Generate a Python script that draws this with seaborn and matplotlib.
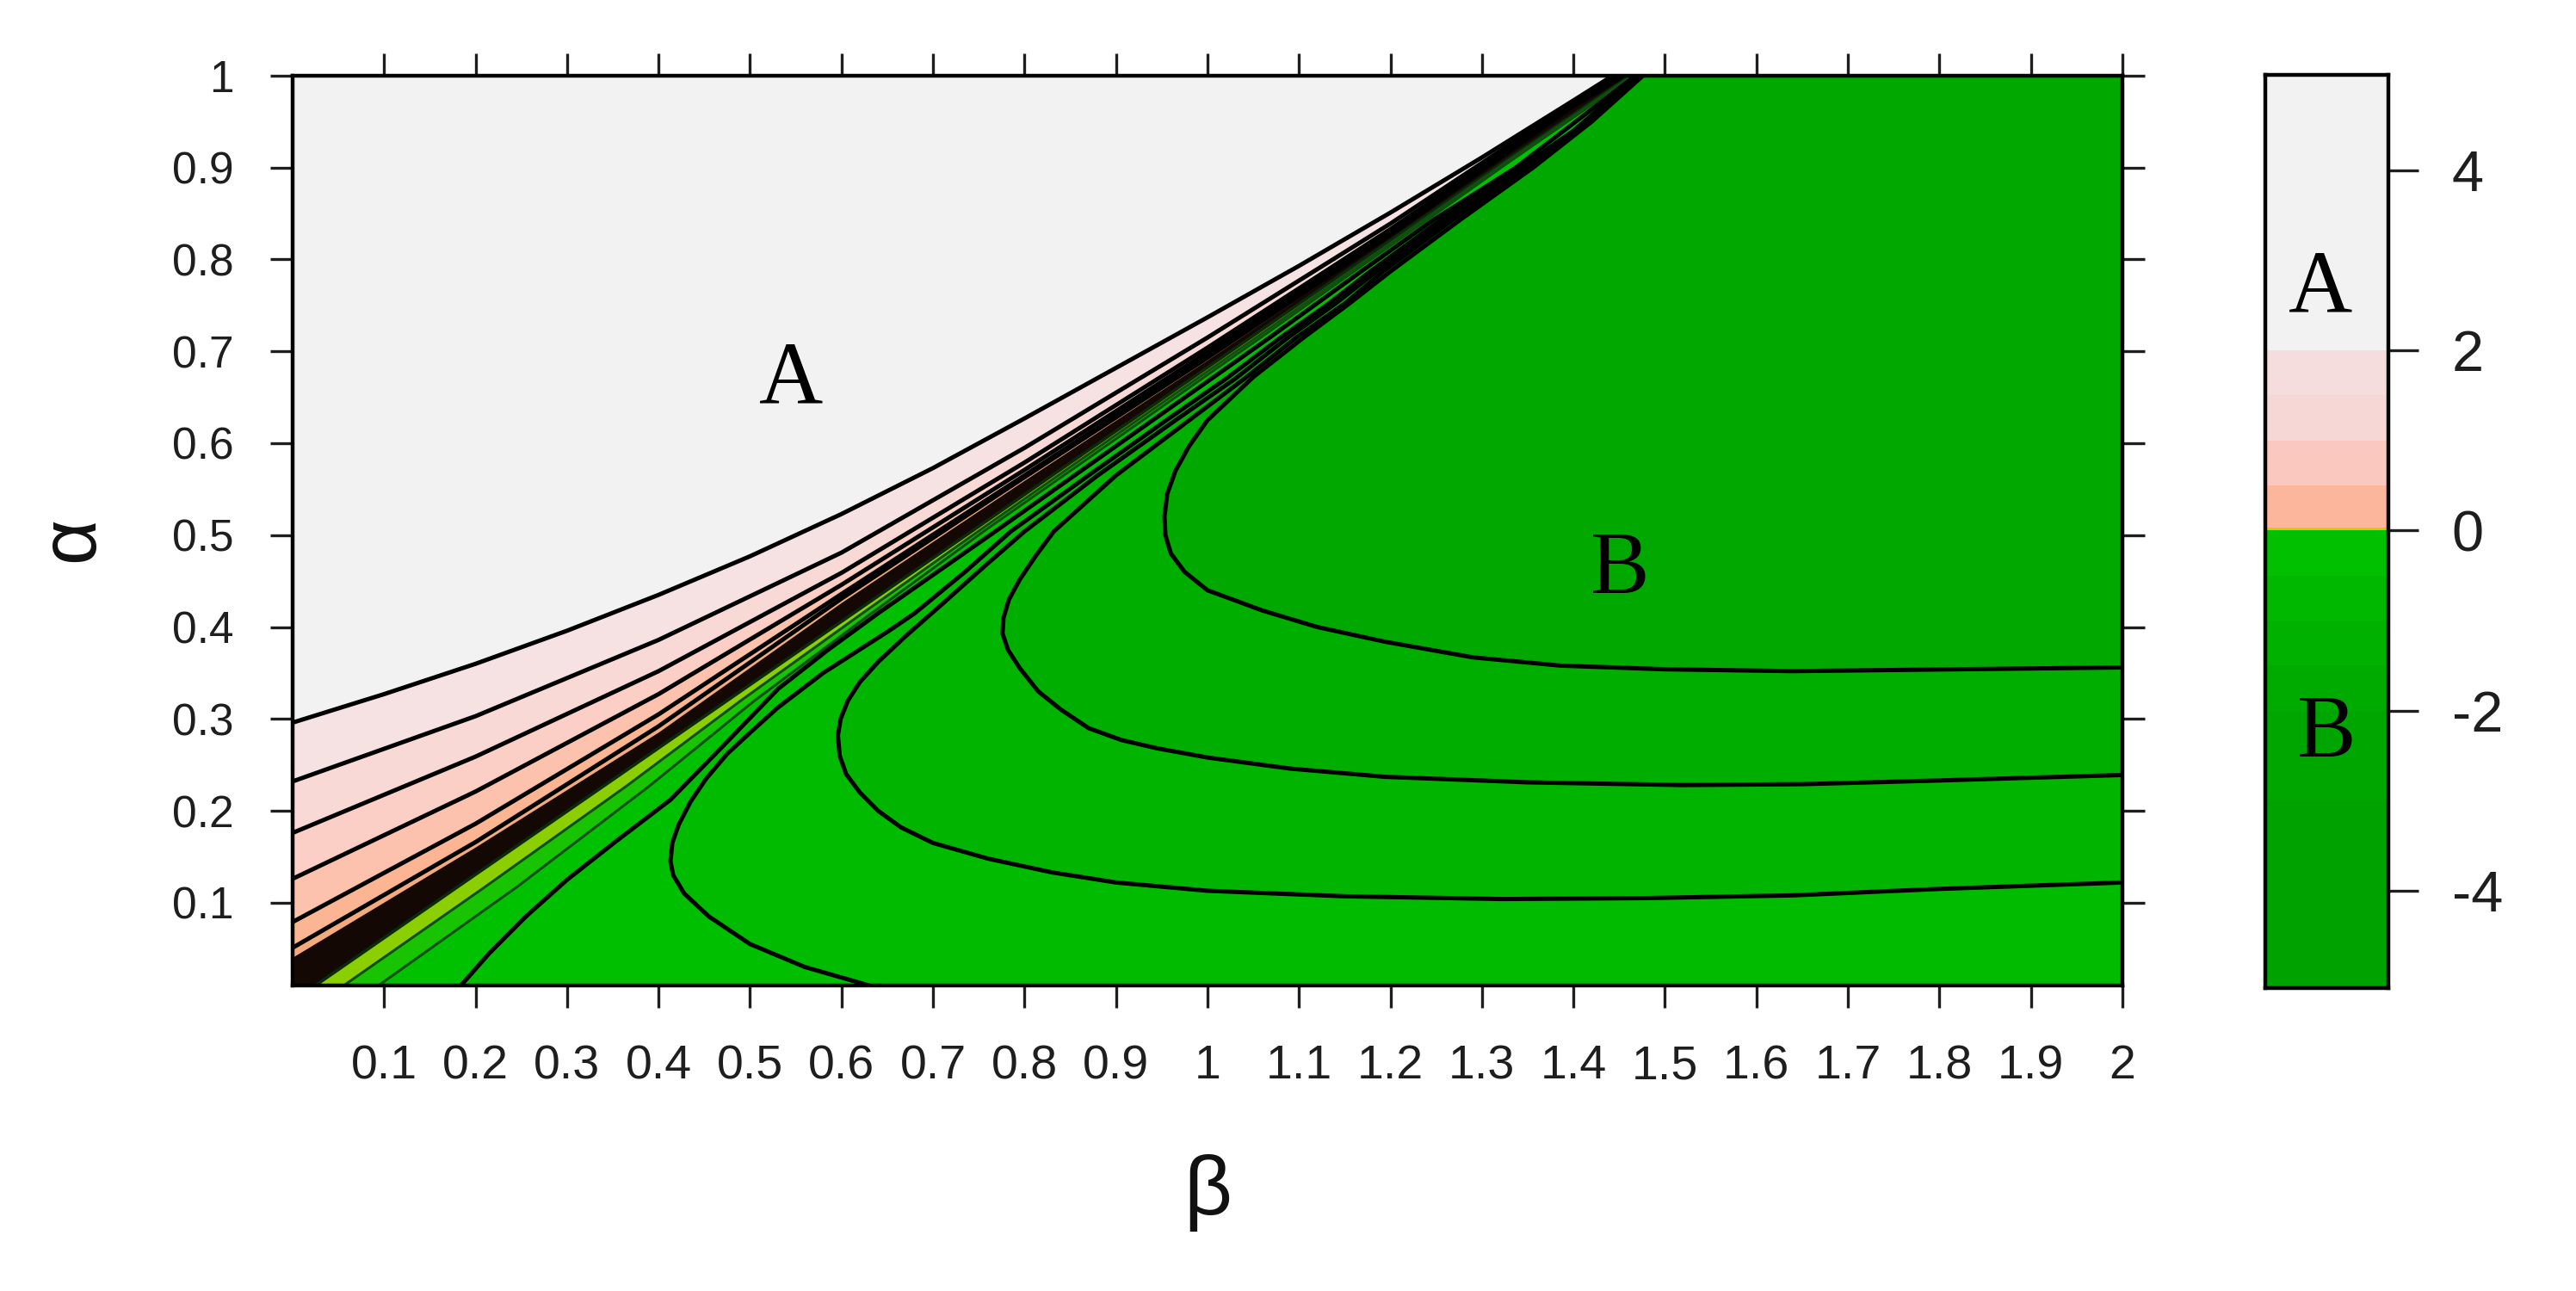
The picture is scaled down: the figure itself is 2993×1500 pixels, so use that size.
import numpy as np
import pandas as pd
import matplotlib
matplotlib.use('Agg')
import matplotlib.pyplot as plt
import seaborn as sns

# Contour lines, as (beta, alpha) points.
# Upper boundary of the pink fan (level 2)
b0_beta = [0.0, 0.1, 0.2, 0.3, 0.4, 0.5, 0.6, 0.7, 0.8, 0.9, 1.0, 1.1, 1.2, 1.3, 1.4, 1.443]
b0_alpha = [0.296, 0.327, 0.360, 0.396, 0.435, 0.477, 0.523, 0.573, 0.627, 0.682, 0.737,
            0.793, 0.851, 0.911, 0.973, 1.0]

# pink fan lines between level 2 and the dense band
fan_beta = [0.0, 0.2, 0.4, 0.6, 0.8, 1.0, 1.2, 1.4]
p1_alpha = [0.232, 0.303, 0.386, 0.481, 0.595, 0.715, 0.839, 0.971]
p2_alpha = [0.176, 0.259, 0.352, 0.459, 0.579, 0.704, 0.833, 0.969]
p3_alpha = [0.126, 0.221, 0.327, 0.446, 0.571, 0.699, 0.830, 0.968]
p4_alpha = [0.079, 0.186, 0.305, 0.436, 0.565, 0.695, 0.828, 0.968]
p5_alpha = [0.051, 0.166, 0.292, 0.431, 0.563, 0.693, 0.827, 0.967]
bt_alpha = [0.040, 0.160, 0.285, 0.426, 0.559, 0.690, 0.825, 0.966]
fan_top_beta = [1.446, 1.449, 1.452, 1.454, 1.456, 1.458]   # where each reaches alpha = 1

# lower edge of the dense black band
bk_beta = [0.025, 0.18, 0.34, 0.475, 0.61, 0.745, 0.92, 1.05, 1.154, 1.235, 1.325, 1.462]
bk_alpha = [0.01, 0.117, 0.227, 0.320, 0.413, 0.506, 0.627, 0.717, 0.789, 0.845, 0.907, 1.0]

# thin green lines next to the band
g1_beta = [0.056, 0.21, 0.365, 0.490, 0.620, 0.752, 0.926, 1.056, 1.159, 1.239, 1.328, 1.464]
g2_beta = [0.094, 0.245, 0.390, 0.505, 0.630, 0.758, 0.932, 1.061, 1.163, 1.243, 1.331, 1.466]
g_alpha = [0.01, 0.117, 0.227, 0.320, 0.413, 0.506, 0.627, 0.717, 0.789, 0.845, 0.907, 1.0]

# green contour lines
l1_beta = [0.184, 0.215, 0.255, 0.300, 0.355, 0.413, 0.470, 0.531, 0.585, 0.640, 0.768,
           0.940, 1.068, 1.168, 1.247, 1.337, 1.468]
l1_alpha = [0.01, 0.045, 0.085, 0.125, 0.168, 0.212, 0.270, 0.333, 0.375, 0.415, 0.504,
            0.625, 0.715, 0.787, 0.843, 0.900, 1.0]

l2_beta = [0.630, 0.560, 0.500, 0.455, 0.428, 0.416, 0.413, 0.415, 0.422, 0.435, 0.452,
           0.475, 0.500, 0.530, 0.580, 0.652, 0.680, 0.735, 0.785, 0.870, 0.955, 1.020,
           1.080, 1.130, 1.178, 1.255, 1.342, 1.400, 1.470]
l2_alpha = [0.01, 0.030, 0.055, 0.085, 0.110, 0.130, 0.145, 0.165, 0.185, 0.210, 0.235,
            0.262, 0.285, 0.312, 0.350, 0.396, 0.415, 0.460, 0.504, 0.565, 0.625, 0.670,
            0.715, 0.750, 0.787, 0.843, 0.900, 0.940, 1.0]

l3_beta = [2.0, 1.80, 1.64, 1.48, 1.322, 1.15, 1.0, 0.90, 0.83, 0.76, 0.70, 0.665, 0.64,
           0.62, 0.605, 0.598, 0.596, 0.599, 0.607, 0.62, 0.64, 0.67, 0.71, 0.755, 0.80,
           0.88, 0.965, 1.03, 1.088, 1.14, 1.185, 1.262, 1.347, 1.41, 1.472]
l3_alpha = [0.122, 0.115, 0.108, 0.105, 0.104, 0.107, 0.113, 0.122, 0.133, 0.148, 0.165,
            0.182, 0.200, 0.220, 0.240, 0.260, 0.282, 0.300, 0.320, 0.340, 0.362, 0.390,
            0.425, 0.465, 0.504, 0.565, 0.625, 0.670, 0.715, 0.752, 0.787, 0.843, 0.900,
            0.945, 1.0]

l4_beta = [2.0, 1.80, 1.65, 1.52, 1.35, 1.194, 1.09, 1.0, 0.945, 0.906, 0.87, 0.84, 0.815,
           0.795, 0.782, 0.776, 0.777, 0.783, 0.795, 0.812, 0.832, 0.90, 0.98, 1.04,
           1.097, 1.15, 1.192, 1.268, 1.351, 1.415, 1.474]
l4_alpha = [0.239, 0.233, 0.229, 0.228, 0.231, 0.237, 0.246, 0.258, 0.268, 0.277, 0.290,
            0.310, 0.330, 0.355, 0.375, 0.393, 0.410, 0.430, 0.452, 0.477, 0.504, 0.565,
            0.625, 0.670, 0.715, 0.752, 0.787, 0.843, 0.900, 0.948, 1.0]

l5_beta = [2.0, 1.82, 1.64, 1.50, 1.386, 1.29, 1.194, 1.12, 1.06, 1.0, 0.975, 0.96, 0.954,
           0.953, 0.956, 0.965, 0.98, 1.0, 1.05, 1.105, 1.155, 1.20, 1.276, 1.356, 1.42,
           1.476]
l5_alpha = [0.356, 0.354, 0.352, 0.354, 0.358, 0.367, 0.384, 0.400, 0.418, 0.440, 0.460,
            0.480, 0.500, 0.520, 0.545, 0.570, 0.597, 0.625, 0.672, 0.715, 0.752, 0.787,
            0.843, 0.900, 0.950, 1.0]

# colour bar bands (value ranges and colours)
cb_lo = [-5.1, -3.0, -2.0, -1.5, -1.0, -0.5, 0.0, 0.03, 0.5, 1.0, 1.5, 2.0]
cb_hi = [-3.0, -2.0, -1.5, -1.0, -0.5, 0.0, 0.03, 0.5, 1.0, 1.5, 2.0, 5.1]
cb_colors = ['#00a200', '#00a600', '#00ab00', '#00b100', '#00b800', '#00c000',
             '#e2c400', '#fbb69c', '#fbc8c0', '#f7d6d6', '#f6dddd', '#f2f2f2']
cb_ticks = [-4, -2, 0, 2, 4]
cb_ticklabels = ['-4', '-2', '0', '2', '4']

x_ticks = [0.1, 0.2, 0.3, 0.4, 0.5, 0.6, 0.7, 0.8, 0.9, 1.0,
           1.1, 1.2, 1.3, 1.4, 1.5, 1.6, 1.7, 1.8, 1.9, 2.0]
x_ticklabels = ['0.1', '0.2', '0.3', '0.4', '0.5', '0.6', '0.7', '0.8', '0.9', '1',
                '1.1', '1.2', '1.3', '1.4', '1.5', '1.6', '1.7', '1.8', '1.9', '2']
y_ticks = [0.1, 0.2, 0.3, 0.4, 0.5, 0.6, 0.7, 0.8, 0.9, 1.0]
y_ticklabels = ['0.1', '0.2', '0.3', '0.4', '0.5', '0.6', '0.7', '0.8', '0.9', '1']

XLIM = (0.0, 2.0)
YLIM = (0.01, 1.0)


def fill_side(ax, b, a, color, start):
    """Fills the region to the lower right of a contour line."""
    x0, x1, y0, y1 = -0.2, 2.2, -0.2, 1.2
    xs = list(b) + [b[-1], x1]
    ys = list(a) + [y1, y1]
    if start == 'left':
        xs += [x1, x0, x0]
        ys += [y0, y0, a[0]]
    elif start == 'bottom':
        xs += [x1, b[0]]
        ys += [y0, y0]
    else:  # starts on the right edge
        xs += [x1]
        ys += [a[0]]
    ax.fill(xs, ys, color=color, lw=0, zorder=1)


def draw_line(ax, b, a, color='black', lw=3.6):
    df = pd.DataFrame({'beta': b, 'alpha': a})
    sns.lineplot(data=df, x='beta', y='alpha', sort=False, estimator=None,
                 color=color, lw=lw, ax=ax, legend=False, zorder=3)
    ax.lines[-1].set_solid_joinstyle('round')


sns.set_style('white')
plt.rcParams['font.family'] = ['Liberation Sans', 'DejaVu Sans']

fig = plt.figure(figsize=(29.93, 15.0), dpi=100)
ax = fig.add_axes([0.1136, 0.2367, 0.7103, 0.7047])
cax = fig.add_axes([0.8794, 0.2347, 0.0478, 0.7073])

ax.set_facecolor('#f2f2f2')

fan_lines = []
for a, top in zip([p1_alpha, p2_alpha, p3_alpha, p4_alpha, p5_alpha, bt_alpha],
                  fan_top_beta):
    fan_lines.append((fan_beta + [top], a + [1.0]))

# filled regions, painted from the A side to the B side
fill_side(ax, b0_beta, b0_alpha, '#f6e2e2', 'left')
fan_colors = ['#f8d9d6', '#fbcec6', '#fcc2ad', '#fbb592', '#f4aa7c', '#140805']
for (b, a), c in zip(fan_lines, fan_colors):
    fill_side(ax, b, a, c, 'left')
fill_side(ax, bk_beta, bk_alpha, '#8ccf00', 'bottom')
fill_side(ax, g1_beta, g_alpha, '#18c400', 'bottom')
fill_side(ax, g2_beta, g_alpha, '#00c100', 'bottom')
fill_side(ax, l1_beta, l1_alpha, '#00bf00', 'bottom')
fill_side(ax, l2_beta, l2_alpha, '#00bb00', 'bottom')
fill_side(ax, l3_beta, l3_alpha, '#00b400', 'right')
fill_side(ax, l4_beta, l4_alpha, '#00ae00', 'right')
fill_side(ax, l5_beta, l5_alpha, '#00a800', 'right')

# contour lines
draw_line(ax, b0_beta, b0_alpha)
for b, a in fan_lines[:-1]:
    draw_line(ax, b, a)
draw_line(ax, bk_beta, bk_alpha, color='#0b2a0b', lw=2.6)
draw_line(ax, g1_beta, g_alpha, color='#0e4f0e', lw=2.2)
draw_line(ax, g2_beta, g_alpha, color='#0e4f0e', lw=2.2)
for b, a in [(l1_beta, l1_alpha), (l2_beta, l2_alpha), (l3_beta, l3_alpha),
             (l4_beta, l4_alpha), (l5_beta, l5_alpha)]:
    draw_line(ax, b, a)

ax.text(0.545, 0.667, 'A', family='Liberation Serif', fontsize=74,
        ha='center', va='center', color='black', zorder=5)
ax.text(1.451, 0.46, 'B', family='Liberation Serif', fontsize=74,
        ha='center', va='center', color='black', zorder=5)

ax.set_xlim(*XLIM)
ax.set_ylim(*YLIM)
ax.set_xticks(x_ticks)
ax.set_xticklabels(x_ticklabels, family=['Liberation Sans Narrow', 'Liberation Sans'],
                   fontsize=40)
ax.set_yticks(y_ticks)
ax.set_yticklabels(y_ticklabels, fontsize=37)
ax.tick_params(direction='out', length=19, width=2.4, top=True, right=True,
               bottom=True, left=True, labeltop=False, labelright=False,
               pad=30, colors='#1e1e1e')
for s in ax.spines.values():
    s.set_visible(True)
    s.set_linewidth(3.2)
    s.set_color('black')
    s.set_zorder(6)

ax.set_xlabel('β', fontsize=70, color='#111111')
ax.set_ylabel('α', fontsize=66, color='#111111')
ax.xaxis.set_label_coords(0.5, -0.185)
ax.yaxis.set_label_coords(-0.100, 0.49)

# colour bar
for lo, hi, c in zip(cb_lo, cb_hi, cb_colors):
    cax.fill_between([0, 1], lo, hi, color=c, lw=0)
cax.set_xlim(0, 1)
cax.set_ylim(-5.08, 5.06)
cax.set_xticks([])
cax.yaxis.tick_right()
cax.set_yticks(cb_ticks)
cax.set_yticklabels(cb_ticklabels)
cax.tick_params(axis='y', direction='out', length=25, width=2.4, pad=28,
                labelsize=48, left=False, right=True, colors='#1e1e1e')
for s in cax.spines.values():
    s.set_visible(True)
    s.set_linewidth(3.2)
    s.set_color('black')
cax.text(0.45, 2.67, 'A', family='Liberation Serif', fontsize=74,
         ha='center', va='center', color='black')
cax.text(0.5, -2.27, 'B', family='Liberation Serif', fontsize=74,
         ha='center', va='center', color='black')

fig.savefig('out.png', dpi=100, facecolor='white')
